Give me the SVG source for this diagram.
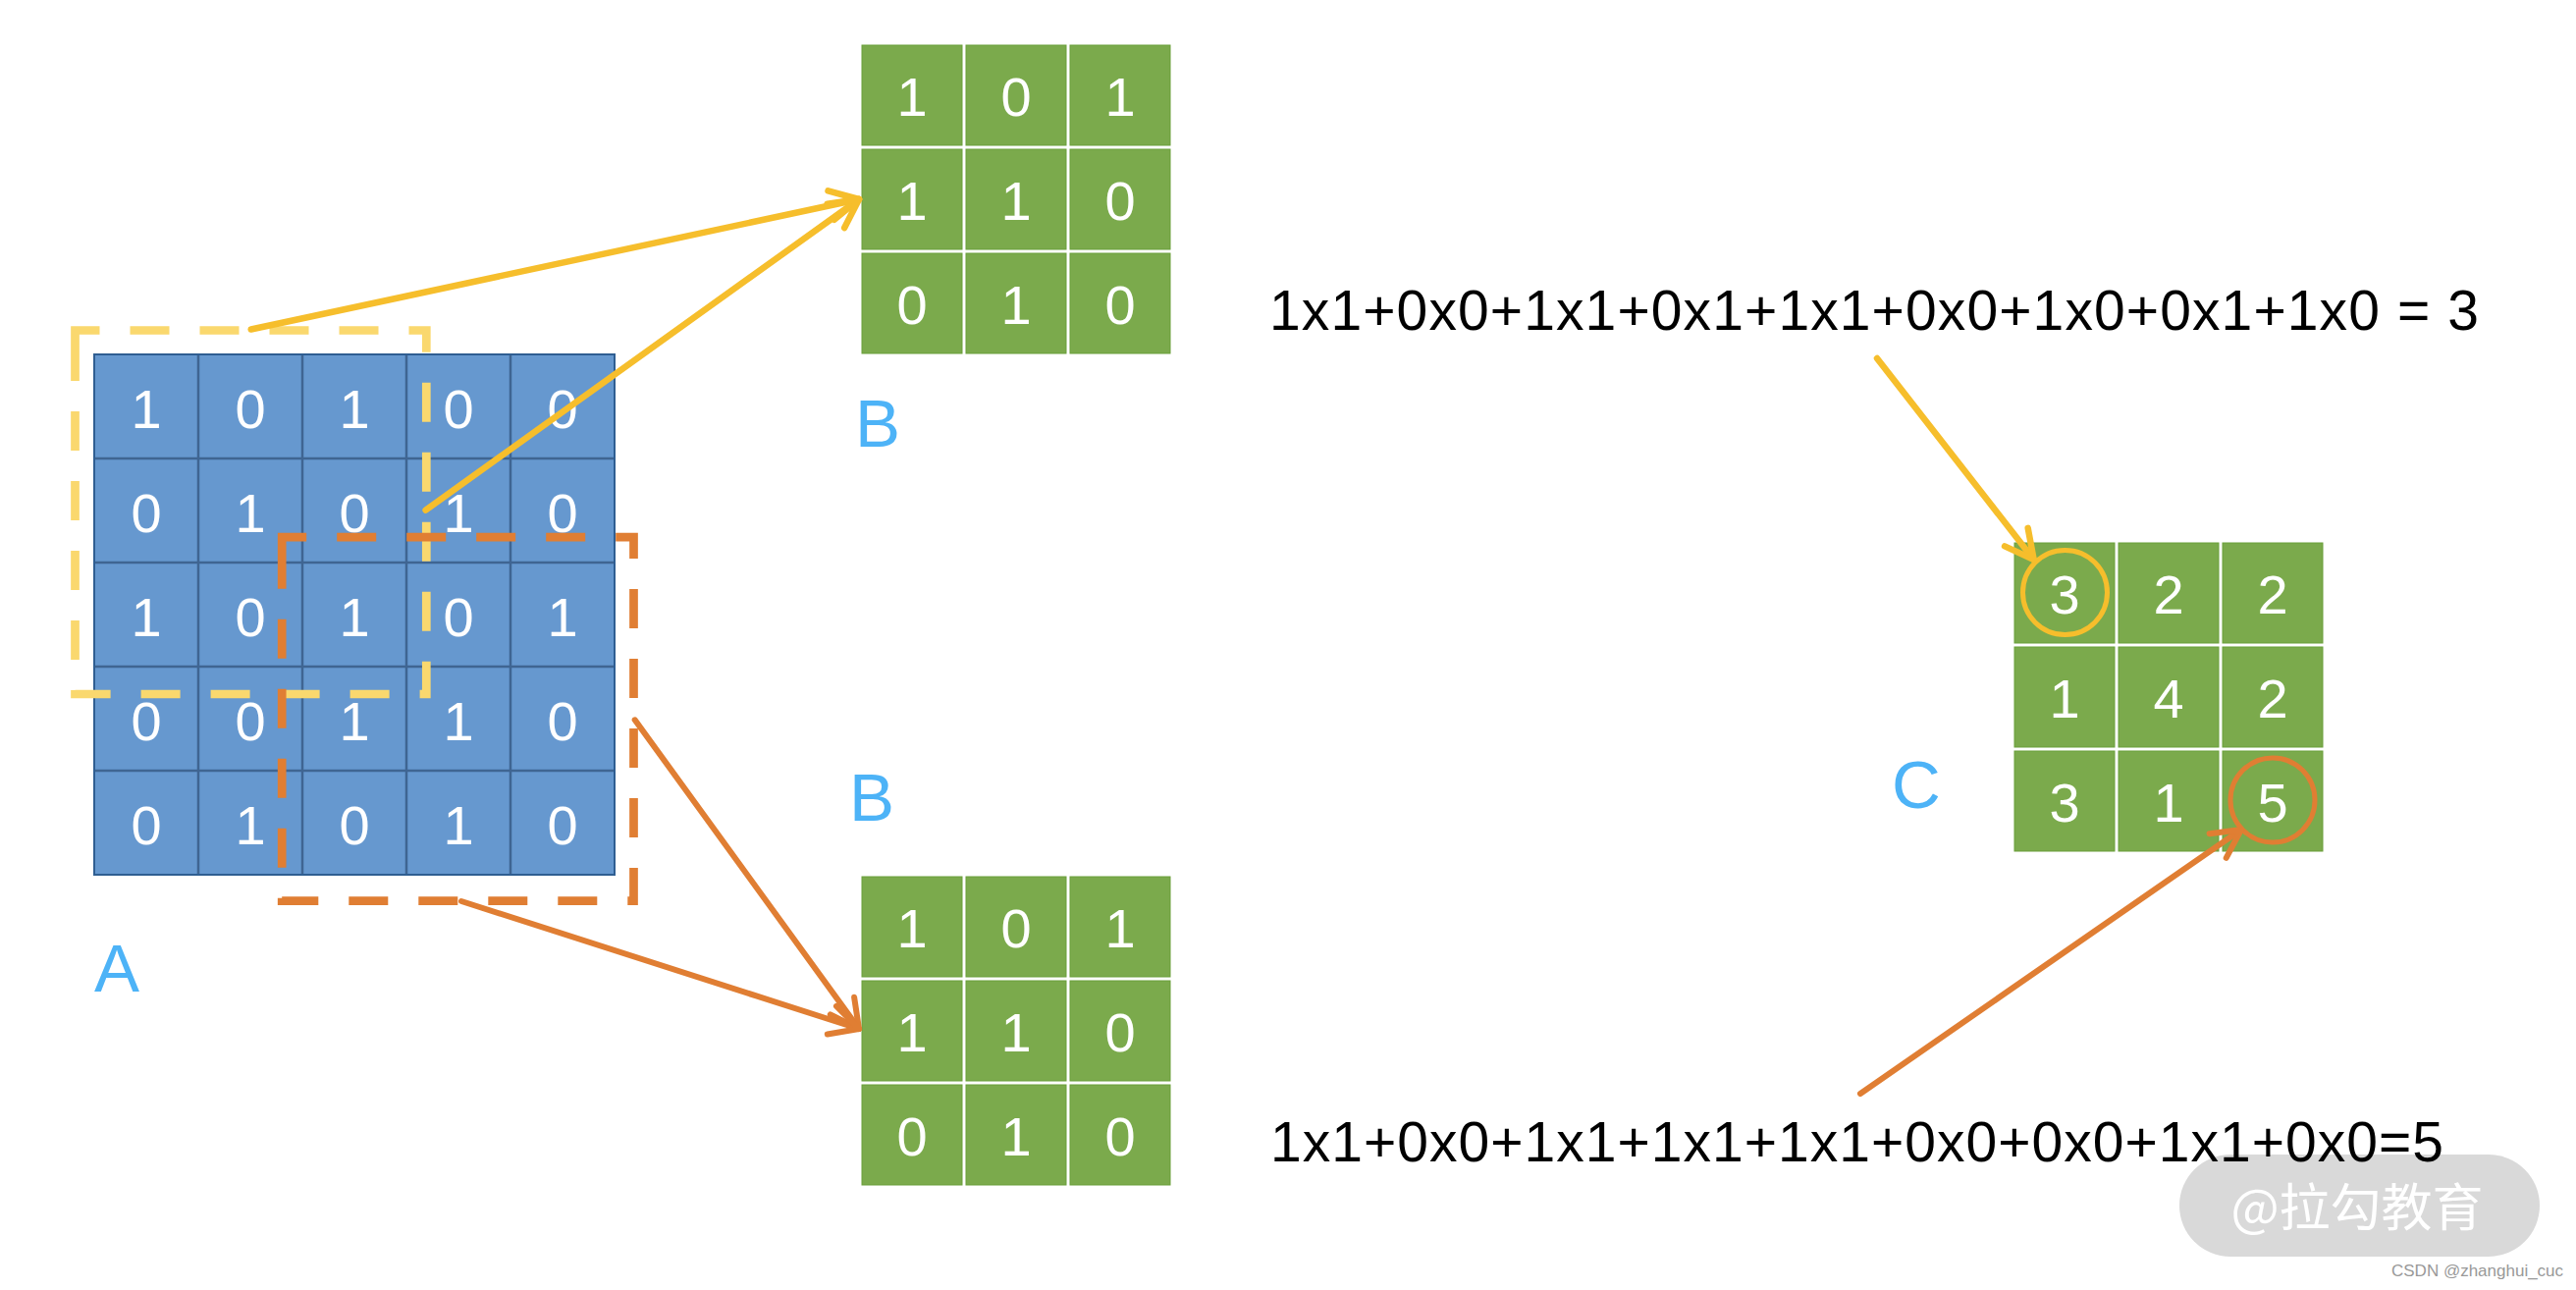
<svg xmlns="http://www.w3.org/2000/svg" width="2624" height="1314" viewBox="0 0 2624 1314">
<style>
.bg{fill:#ffffff}
.bcell{fill:#6698CF}
.bline{stroke:#3F6592;stroke-width:2.5;fill:none}
.bout{fill:none;stroke:#2F5E92;stroke-width:2}
.gcell{fill:#7BAA4C;stroke:#6B9F3A;stroke-width:1}
.num{font-family:"Liberation Sans",Arial,sans-serif;font-size:56px;fill:#ffffff;text-anchor:middle}
.lbl{font-family:"Liberation Sans",Arial,sans-serif;font-size:69px;fill:#4DB3F7}
.eq{font-family:"Liberation Sans",Arial,sans-serif;font-size:57px;fill:#000000}
.win{fill:none;stroke-width:8.7;stroke-dasharray:40 31}
.ywin{stroke:#FAD86E}
.owin{stroke:#E07E33}
.ya{fill:none;stroke:#F6BE2C;stroke-width:6.5;stroke-linecap:round}
.oa{fill:none;stroke:#E07E33;stroke-width:6;stroke-linecap:round}
.wm{font-family:"Noto Sans CJK SC","Noto Sans",sans-serif;font-size:52px;fill:#ffffff;text-anchor:middle}
.src{font-family:"Liberation Sans",Arial,sans-serif;font-size:17px;fill:#999999}
</style>
<defs>
<marker id="ahY" viewBox="-40 -25 50 50" refX="0" refY="0" markerWidth="50" markerHeight="50" markerUnits="userSpaceOnUse" orient="auto">
<path d="M-29,-15 L0,0 L-29,15" fill="none" stroke="#F6BE2C" stroke-width="6.5" stroke-linecap="round" stroke-linejoin="round"/>
</marker>
<marker id="ahO" viewBox="-40 -25 50 50" refX="0" refY="0" markerWidth="50" markerHeight="50" markerUnits="userSpaceOnUse" orient="auto">
<path d="M-29,-15 L0,0 L-29,15" fill="none" stroke="#E07E33" stroke-width="6" stroke-linecap="round" stroke-linejoin="round"/>
</marker>
</defs>
<rect class="bg" x="0" y="0" width="2624" height="1314"/>

<g id="watermark">
<rect x="2220" y="1176" width="367" height="104" rx="52" ry="52" fill="#D9D9D9"/>
<text class="wm" x="2401" y="1249">@拉勾教育</text>
<text class="src" x="2436" y="1300">CSDN @zhanghui_cuc</text>
</g>

<g id="matrix-A">
<rect class="bcell" x="96" y="361" width="530" height="530"/>
<path class="bline" d="M202,361V891M308,361V891M414,361V891M520,361V891M96,467H626M96,573H626M96,679H626M96,785H626"/>
<rect class="bout" x="96" y="361" width="530" height="530"/>
<text class="num" x="149" y="436">1</text><text class="num" x="255" y="436">0</text><text class="num" x="361" y="436">1</text><text class="num" x="467" y="436">0</text><text class="num" x="573" y="436">0</text>
<text class="num" x="149" y="542">0</text><text class="num" x="255" y="542">1</text><text class="num" x="361" y="542">0</text><text class="num" x="467" y="542">1</text><text class="num" x="573" y="542">0</text>
<text class="num" x="149" y="648">1</text><text class="num" x="255" y="648">0</text><text class="num" x="361" y="648">1</text><text class="num" x="467" y="648">0</text><text class="num" x="573" y="648">1</text>
<text class="num" x="149" y="754">0</text><text class="num" x="255" y="754">0</text><text class="num" x="361" y="754">1</text><text class="num" x="467" y="754">1</text><text class="num" x="573" y="754">0</text>
<text class="num" x="149" y="860">0</text><text class="num" x="255" y="860">1</text><text class="num" x="361" y="860">0</text><text class="num" x="467" y="860">1</text><text class="num" x="573" y="860">0</text>
</g>
<g id="label-A"><text class="lbl" x="96" y="1010">A</text></g>

<g id="window-yellow"><path class="win ywin" d="M76.5,351.5V336.5H434.3V707H76.5Z"/></g>
<g id="window-orange"><path class="win owin" d="M287.2,562.2V547.2H645.5V917.7H287.2Z"/></g>

<g id="kernel-B1">
<rect class="gcell" x="878" y="46" width="102" height="102"/><rect class="gcell" x="984" y="46" width="102" height="102"/><rect class="gcell" x="1090" y="46" width="102" height="102"/>
<rect class="gcell" x="878" y="152" width="102" height="102"/><rect class="gcell" x="984" y="152" width="102" height="102"/><rect class="gcell" x="1090" y="152" width="102" height="102"/>
<rect class="gcell" x="878" y="258" width="102" height="102"/><rect class="gcell" x="984" y="258" width="102" height="102"/><rect class="gcell" x="1090" y="258" width="102" height="102"/>
<text class="num" x="929" y="118">1</text><text class="num" x="1035" y="118">0</text><text class="num" x="1141" y="118">1</text>
<text class="num" x="929" y="224">1</text><text class="num" x="1035" y="224">1</text><text class="num" x="1141" y="224">0</text>
<text class="num" x="929" y="330">0</text><text class="num" x="1035" y="330">1</text><text class="num" x="1141" y="330">0</text>
</g>
<g id="label-B1"><text class="lbl" x="871" y="455">B</text></g>

<g id="kernel-B2">
<rect class="gcell" x="878" y="893" width="102" height="102"/><rect class="gcell" x="984" y="893" width="102" height="102"/><rect class="gcell" x="1090" y="893" width="102" height="102"/>
<rect class="gcell" x="878" y="999" width="102" height="102"/><rect class="gcell" x="984" y="999" width="102" height="102"/><rect class="gcell" x="1090" y="999" width="102" height="102"/>
<rect class="gcell" x="878" y="1105" width="102" height="102"/><rect class="gcell" x="984" y="1105" width="102" height="102"/><rect class="gcell" x="1090" y="1105" width="102" height="102"/>
<text class="num" x="929" y="965">1</text><text class="num" x="1035" y="965">0</text><text class="num" x="1141" y="965">1</text>
<text class="num" x="929" y="1071">1</text><text class="num" x="1035" y="1071">1</text><text class="num" x="1141" y="1071">0</text>
<text class="num" x="929" y="1177">0</text><text class="num" x="1035" y="1177">1</text><text class="num" x="1141" y="1177">0</text>
</g>
<g id="label-B2"><text class="lbl" x="865" y="836">B</text></g>

<g id="output-C">
<rect class="gcell" x="2052" y="553" width="102" height="102"/><rect class="gcell" x="2158" y="553" width="102" height="102"/><rect class="gcell" x="2264" y="553" width="102" height="102"/>
<rect class="gcell" x="2052" y="659" width="102" height="102"/><rect class="gcell" x="2158" y="659" width="102" height="102"/><rect class="gcell" x="2264" y="659" width="102" height="102"/>
<rect class="gcell" x="2052" y="765" width="102" height="102"/><rect class="gcell" x="2158" y="765" width="102" height="102"/><rect class="gcell" x="2264" y="765" width="102" height="102"/>
<text class="num" x="2103" y="625">3</text><text class="num" x="2209" y="625">2</text><text class="num" x="2315" y="625">2</text>
<text class="num" x="2103" y="731">1</text><text class="num" x="2209" y="731">4</text><text class="num" x="2315" y="731">2</text>
<text class="num" x="2103" y="837">3</text><text class="num" x="2209" y="837">1</text><text class="num" x="2315" y="837">5</text>
<circle cx="2103.5" cy="603.5" r="43" fill="none" stroke="#F6BE2C" stroke-width="5"/>
<circle cx="2315" cy="815" r="43" fill="none" stroke="#E07E33" stroke-width="5"/>
</g>
<g id="label-C"><text class="lbl" x="1927" y="823">C</text></g>

<g id="formula-top"><text class="eq" x="1293" y="336" textLength="1232" lengthAdjust="spacing">1x1+0x0+1x1+0x1+1x1+0x0+1x0+0x1+1x0 = 3</text></g>
<g id="formula-bottom"><text class="eq" x="1294" y="1183" textLength="1195" lengthAdjust="spacing">1x1+0x0+1x1+1x1+1x1+0x0+0x0+1x1+0x0=5</text></g>

<g id="connectors">
<path class="ya" d="M255.7,335.5L875,203" marker-end="url(#ahY)"/>
<path class="ya" d="M433.6,519.6L875,203" marker-end="url(#ahY)"/>
<path class="oa" d="M646.7,733.3L875,1048" marker-end="url(#ahO)"/>
<path class="oa" d="M470,918L875,1048" marker-end="url(#ahO)"/>
<path class="ya" d="M1912,365L2071.7,570" marker-end="url(#ahY)"/>
<path class="oa" d="M1895,1114L2283,845" marker-end="url(#ahO)"/>
</g>
</svg>
